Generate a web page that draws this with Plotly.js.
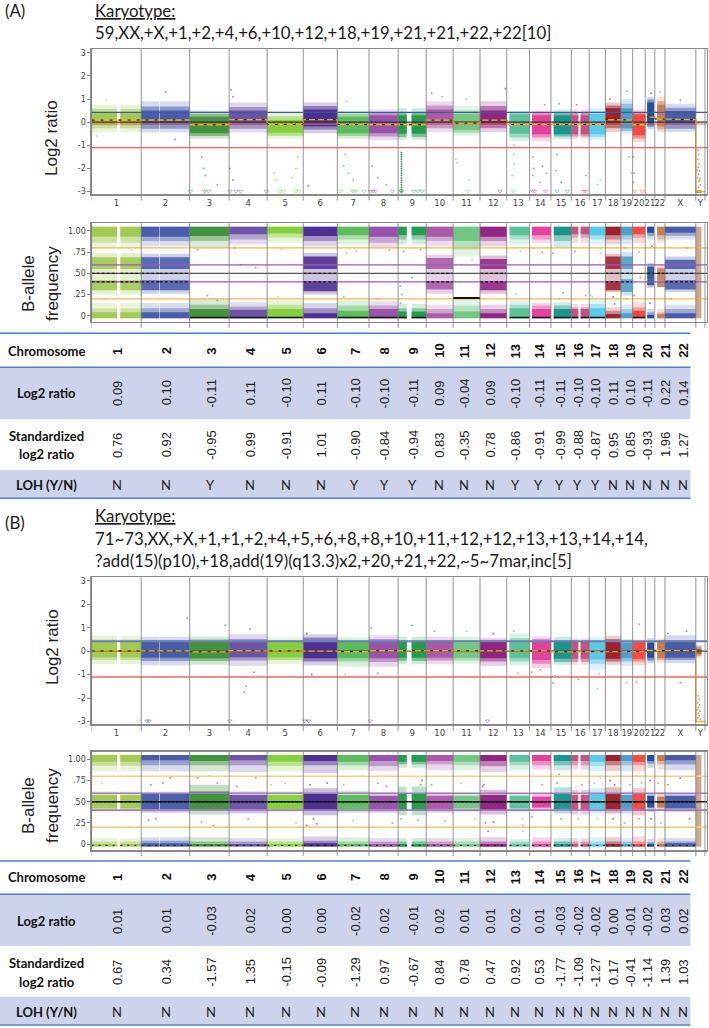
<!DOCTYPE html>
<html><head><meta charset="utf-8">
<script src="https://cdn.plot.ly/plotly-3.0.1.min.js"></script>
<style>html,body{margin:0;padding:0;background:#fff}#c{width:709px;height:1028px}</style>
</head><body><div id="c"></div>
<script>
// ---------- categories ----------
const chrNames = ['1','2','3','4','5','6','7','8','9','10','11','12','13','14','15','16','17','18','19','20','21','22','X','Y'];
const chrSizes = [249,243,198,191,181,171,159,146,141,135,135,134,115,107,102,90,81,78,59,63,48,51,155,46];
const chrColors = ['#a0c850','#4458a8','#3f8f3a','#6a50a5','#84cc3a','#4a2a90','#57bb5a','#9550a8','#1f9a4a','#a856a5','#6fc580','#8e2080','#58c098','#e43c9c','#14958a','#c0507e','#55c8e8','#9c1c28','#4c9cc8','#f54440','#1e4a98','#c87850','#4458a8','#a06030'];
const chrGaps = {1:[[128,144]],2:[[90,93]],9:[[43,68]],13:[[0,14]],14:[[0,12]],15:[[0,14]],16:[[35,47]],21:[[0,10],[44,48]],22:[[0,12]],24:[[28,46]]};
const tableChr = chrNames.slice(0,22);

// ---------- table values ----------
const log2A = [0.09,0.10,-0.11,0.11,-0.10,0.11,-0.10,-0.10,-0.11,0.09,-0.04,0.09,-0.10,-0.11,-0.11,-0.10,-0.10,0.11,0.10,-0.11,0.22,0.14];
const stdA  = [0.76,0.92,-0.95,0.99,-0.91,1.01,-0.90,-0.84,-0.94,0.83,-0.35,0.78,-0.86,-0.91,-0.99,-0.88,-0.87,0.95,0.85,-0.93,1.96,1.27];
const lohA  = ['N','N','Y','N','N','N','Y','Y','Y','N','N','N','Y','Y','Y','Y','Y','N','N','N','N','N'];
const log2B = ['0.01','0.01','-0.03','0.02','0.00','0.00','-0.02','0.02','-0.01','0.02','0.01','0.01','0.02','0.01','-0.03','-0.02','-0.02','0.00','-0.01','-0.02','0.03','0.02'];
const stdB  = [0.67,0.34,-1.57,1.35,-0.15,-0.09,-1.29,0.97,-0.67,0.84,0.78,0.47,0.92,0.53,-1.77,-1.09,-1.27,0.17,-0.41,-1.14,1.39,1.03];
const lohB  = ['N','N','N','N','N','N','N','N','N','N','N','N','N','N','N','N','N','N','N','N','N','N'];
const sexLog2A = [0.11,-3.0];
const sexLog2B = [0.02,-3.0];

// ---------- panel A log2 cloud extents per chromosome ----------
const a1OuterHi=[.75,.9,.5,.85,.45,.85,.5,.55,.6,.9,.7,.9,.5,.5,.55,.55,.6,.85,1.0,.55,1.1,1.1,.8,-2.92];
const a1MidHi  =[.58,.68,.36,.66,.26,.7,.36,.42,.44,.72,.5,.7,.42,.4,.42,.42,.46,.72,.8,.44,.98,.9,.62,-2.94];
const a1CoreHi =[.44,.5,.24,.5,.1,.55,.24,.3,.3,.55,.35,.5,.34,.3,.3,.3,.35,.6,.6,.34,.85,.75,.48,-2.96];
const a1CoreLo =[-.12,-.12,-.48,-.12,-.46,-.18,-.48,-.48,-.5,-.12,-.34,-.12,-.5,-.52,-.52,-.52,-.52,-.12,-.26,-.56,-.12,-.18,-.12,-3.04];
const a1MidLo  =[-.26,-.28,-.6,-.28,-.58,-.32,-.6,-.62,-.64,-.26,-.46,-.26,-.66,-.66,-.62,-.62,-.64,-.26,-.38,-.7,-.2,-.3,-.28,-3.05];
const a1OuterLo=[-.42,-.45,-.72,-.45,-.7,-.48,-.72,-.78,-.76,-.42,-.58,-.42,-.82,-.82,-.72,-.72,-.78,-.42,-.5,-.85,-.3,-.42,-.42,-3.06];

// ---------- panel B log2 cloud extents ----------
const b1OuterHi=[.65,.6,.62,.72,.58,.72,.58,.68,.6,.6,.62,.55,.75,.62,.6,.55,.58,.66,.52,.5,.55,.55,.68,.28];
const b1MidHi  =[.5,.48,.5,.52,.46,.58,.46,.52,.46,.48,.48,.46,.55,.52,.48,.46,.46,.52,.42,.42,.42,.48,.48,.2];
const b1CoreHi =[.4,.4,.4,.42,.4,.42,.4,.42,.4,.4,.38,.42,.4,.42,.4,.42,.42,.42,.36,.38,.36,.42,.4,.1];
const b1CoreLo =[-.26,-.28,-.3,-.26,-.26,-.3,-.3,-.3,-.28,-.28,-.28,-.3,-.3,-.38,-.32,-.32,-.36,-.32,-.3,-.32,-.28,-.28,-.28,-.12];
const b1MidLo  =[-.38,-.42,-.42,-.4,-.38,-.44,-.44,-.46,-.42,-.4,-.4,-.44,-.44,-.54,-.46,-.46,-.54,-.44,-.44,-.44,-.4,-.38,-.38,-.2];
const b1OuterLo=[-.55,-.6,-.58,-.62,-.54,-.6,-.66,-.66,-.56,-.56,-.54,-.62,-.6,-.72,-.58,-.58,-.78,-.58,-.62,-.6,-.52,-.5,-.52,-.3];

// ---------- panel A B-allele extents ----------
const a2TopEdge =[.80,.82,.80,.84,.86,.82,.84,.80,.84,.82,.70,.82,.84,.86,.80,.86,.84,.84,.84,.86,.90,.86,.90,.0];
const a2TopMid  =[.86,.88,.88,.90,.92,.88,.90,.86,.90,.88,.78,.88,.90,.90,.88,.92,.90,.90,.90,.92,.94,.90,.94,.0];
const a2TopCore =[.93,.93,.94,.96,.97,.94,.95,.93,.95,.93,.88,.93,.95,.95,.95,.96,.95,.95,.95,.96,.98,.95,.98,.0];
const a2BotCore =[.04,.04,.08,.07,.08,.03,.06,.08,.05,.03,.05,.03,.09,.08,.08,.08,.09,.02,.03,.06,.01,.02,.03,.0];
const a2BotMid  =[.09,.09,.13,.11,.13,.09,.12,.12,.09,.08,.12,.08,.13,.12,.12,.10,.14,.06,.08,.10,.04,.04,.08,.0];
const a2BotEdge =[.15,.15,.20,.16,.18,.15,.18,.17,.14,.13,.21,.13,.18,.15,.16,.14,.20,.10,.13,.16,.08,.08,.13,.0];
const gainUpperLo=[.55,.55,null,null,null,.55,null,null,null,.55,null,.55,null,null,null,null,null,.55,.55,null,.43,.42,.55,null];
const gainUpperHi=[.69,.69,null,null,null,.70,null,null,null,.68,null,.67,null,null,null,null,null,.70,.70,null,.58,.56,.66,null];
const gainLowerLo=[.30,.30,null,null,null,.29,null,null,null,.31,null,.30,null,null,null,null,null,.30,.28,null,.36,.34,.31,null];
const gainLowerHi=[.42,.42,null,null,null,.41,null,null,null,.41,null,.41,null,null,null,null,null,.41,.43,null,.43,.42,.42,null];
const gainMaskLo =[.25,.26,null,null,null,.25,null,null,null,.26,null,.26,null,null,null,null,null,.28,.24,null,.33,.34,.28,null];
const gainMaskHi =[.74,.73,null,null,null,.74,null,null,null,.72,null,.71,null,null,null,null,null,.73,.75,null,.62,.60,.70,null];
const yStripLo = [null,null,null,null,null,null,null,null,null,null,null,null,null,null,null,null,null,null,null,null,null,null,null,-.03];
const yStripHi = [null,null,null,null,null,null,null,null,null,null,null,null,null,null,null,null,null,null,null,null,null,null,null,1.05];

// ---------- panel B B-allele extents ----------
const b2TopCore =[.97,.99,.98,.99,.97,.98,.97,.98,.97,.98,.97,.98,.97,.98,.98,.98,.97,.98,.98,.97,.98,.98,.99,.0];
const b2TopMid  =[.92,.93,.93,.93,.92,.93,.93,.92,.94,.94,.93,.92,.93,.93,.93,.93,.92,.93,.93,.93,.95,.94,.94,.0];
const b2TopEdge =[.86,.86,.86,.85,.86,.84,.87,.86,.90,.87,.87,.85,.87,.88,.87,.88,.86,.86,.86,.86,.90,.88,.87,.0];
const b2MidHi   =[.58,.59,.62,.58,.58,.60,.58,.57,.60,.57,.57,.58,.57,.56,.60,.58,.59,.59,.58,.60,.57,.56,.57,.0];
const b2FadeHi  =[.62,.61,.70,.62,.62,.66,.63,.61,.68,.61,.60,.64,.60,.60,.67,.64,.66,.67,.62,.66,.60,.60,.60,.0];
const b2MidLo   =[.42,.41,.39,.41,.41,.39,.41,.41,.40,.41,.42,.40,.42,.43,.41,.40,.41,.41,.41,.40,.43,.43,.42,.0];
const b2FadeLo  =[.38,.37,.35,.36,.38,.34,.37,.37,.34,.37,.38,.35,.38,.39,.36,.35,.36,.36,.36,.34,.38,.39,.38,.0];
const b2BotCore =[.0,.01,.0,.0,.0,.01,.0,.0,.0,.0,.0,.0,.0,.0,.0,.0,.0,.0,.0,.0,.0,.0,.01,.0];
const b2BotMid  =[.03,.04,.03,.03,.03,.04,.03,.03,.03,.03,.03,.03,.03,.03,.03,.03,.03,.03,.03,.03,.02,.03,.03,.0];
const b2BotEdge =[.07,.08,.08,.07,.07,.09,.08,.07,.07,.07,.07,.08,.06,.08,.07,.07,.08,.08,.07,.09,.06,.07,.07,.0];

// ---------- isolated marks: [chromosome, fraction along it, value] ----------
const a1Sparse=[[1,.1,-.6],[1,.3,.95],[2,.5,1.3],[2,.7,-.75],[4,.05,1.4],[4,.1,1.1],[3,.3,-1.5],[3,.35,-2.0],[3,.4,-2.3],[3,.7,-2.7],[4,.02,-2.0],[4,.1,-2.5],[5,.2,-2.2],[5,.25,-2.5],[5,.85,-1.5],[5,.8,-2.0],[5,.7,-2.4],[5,.05,-1.0],[6,.15,-2.75],[7,.25,-1.4],[7,.2,-1.9],[7,.35,-2.2],[7,.5,-2.5],[7,.3,.9],[8,.1,-1.9],[8,.3,-2.4],[8,.6,-2.7],[10,.2,1.25],[10,.6,1.1],[11,.1,-1.6],[11,.15,-1.75],[11,.6,-2.5],[11,.5,1.0],[12,.95,1.45],[13,.3,-1.4],[13,.3,-1.8],[13,.25,-2.3],[13,.3,-1.0],[14,.15,-1.5],[14,.2,-2.0],[14,.15,-2.3],[14,.6,-1.9],[14,.8,-2.2],[14,.5,-2.6],[14,.7,.75],[15,.3,-1.4],[15,.25,-2.1],[15,.5,-2.6],[15,.4,.8],[16,.8,-2.3],[16,.3,.75],[17,.7,-2.5],[17,.5,-2.7],[18,.3,1.0],[19,.5,1.35],[19,.7,-1.5],[19,.9,-2.2],[20,.05,-1.5],[20,.1,-2.2],[20,.05,-2.6],[21,.6,1.25],[22,.5,1.3],[23,.5,.95],[24,.25,-1.2],[24,.3,-1.4],[24,.2,-1.6],[24,.35,-1.8],[24,.25,-1.95],[24,.4,-2.1],[24,.3,-2.25],[24,.2,-2.4],[24,.35,-2.55],[24,.5,-2.7],[24,.3,-2.8],[24,.15,-2.1],[24,.45,-2.45]];
const a1Column=[-1.3,-1.4,-1.5,-1.6,-1.7,-1.8,-1.9,-2.0,-2.1,-2.2,-2.3,-2.4,-2.5,-2.6,-2.7,-2.8,-2.9,-3.0];
const a1FloorMarks=[[3,.02],[3,.38],[3,.48],[4,.02],[4,.18],[4,.3],[4,.98],[5,.35],[5,.45],[5,.8],[5,.88],[7,.1],[7,.5],[7,.56],[7,.85],[8,.05],[8,.14],[8,.22],[8,.8],[9,.1],[9,.12],[9,.55],[9,.7],[9,.85],[11,.55],[12,.75],[13,.3],[14,.15],[14,.24],[14,.75],[15,.3],[15,.8],[16,.7],[16,.8],[20,.15],[20,.75]];
const b1Sparse=[[2,.95,1.4],[3,.9,1.1],[4,.55,.95],[4,.65,-.9],[4,.4,-1.75],[4,.45,-1.5],[4,.4,-1.1],[3,.05,-1.1],[6,.1,.75],[6,.25,-1.0],[7,.25,-1.0],[8,.08,1.0],[8,.3,-.95],[9,.5,1.1],[10,.3,.85],[11,.5,.85],[12,.5,.75],[13,.3,.85],[13,.5,-.95],[14,.1,-.9],[14,.5,-.8],[15,.1,-1.35],[15,.2,-1.05],[16,.4,-1.2],[17,.5,-1.6],[17,.6,-.95],[19,.5,-1.35],[20,.5,1.15],[20,.3,-1.3],[23,.1,.75],[23,.7,.85],[23,.5,-1.35],[24,.25,-1.9],[24,.35,-2.05],[24,.2,-2.2],[24,.4,-2.3],[24,.3,-2.4],[24,.15,-2.5],[24,.45,-2.55],[24,.25,-2.65],[24,.35,-2.75],[24,.2,-2.85],[24,.5,-2.9]];
const b1FloorMarks=[[1,.95],[2,.12],[2,.16],[4,.02],[6,.05],[6,.16],[8,.04],[12,.28]];
const a2Sparse=[[1,.25,.2],[1,.8,.78],[3,.2,.78],[3,.45,.24],[3,.7,.18],[4,.3,.6],[4,.7,.57],[4,.15,.8],[5,.3,.22],[5,.4,.78],[7,.2,.22],[7,.6,.76],[7,.3,.74],[8,.3,.2],[8,.7,.78],[9,.08,.35],[9,.13,.25],[9,.08,.15],[9,.5,.45],[9,.8,.78],[9,.2,.76],[13,.6,.76],[13,.4,.25],[14,.2,.8],[14,.6,.75],[15,.1,.74],[15,.6,.27],[15,.4,.2],[16,.8,.24],[16,.2,.76],[17,.1,.24],[17,.2,.22],[17,.7,.74],[18,.5,.22],[18,.6,.14],[20,.1,.24],[20,.5,.75],[20,.6,.45],[21,.5,.15],[21,.7,.82],[19,.5,.2],[19,.3,.8],[23,.2,.2],[23,.7,.8],[11,.3,.6],[11,.7,.66],[11,.2,.4]];
const b2Sparse=[[1,.2,.72],[1,.75,.2],[1,.6,.8],[2,.2,.7],[2,.45,.72],[2,.15,.28],[2,.6,.78],[2,.3,.3],[3,.2,.78],[3,.5,.8],[3,.7,.72],[3,.3,.26],[3,.6,.22],[4,.2,.68],[4,.5,.3],[4,.7,.78],[5,.1,.7],[5,.8,.25],[5,.5,.72],[6,.2,.7],[6,.3,.3],[6,.1,.22],[6,.7,.72],[6,.4,.24],[7,.2,.7],[7,.8,.8],[7,.5,.28],[8,.3,.72],[8,.8,.25],[8,.6,.68],[9,.1,.3],[9,.8,.7],[9,.7,.28],[9,.85,.75],[10,.2,.7],[10,.7,.27],[11,.3,.72],[11,.8,.3],[12,.1,.68],[12,.2,.25],[12,.5,.26],[12,.3,.15],[12,.15,.7],[13,.7,.3],[13,.7,.22],[13,.7,.15],[14,.1,.32],[14,.6,.7],[15,.3,.72],[15,.5,.3],[15,.4,.82],[16,.4,.3],[16,.6,.7],[17,.3,.72],[17,.5,.3],[17,.7,.78],[18,.3,.75],[18,.6,.7],[18,.5,.3],[19,.3,.25],[19,.8,.7],[20,.3,.8],[20,.7,.72],[20,.5,.3],[21,.5,.75],[21,.6,.3],[22,.3,.72],[22,.6,.25],[23,.1,.7],[23,.8,.3],[23,.5,.78]];

// ---------- reference lines ----------
const a1Lines=[[.42,'#3c5aa0',1.2],[0,'#333333',1.2],[-.08,'#f0705a',1],[-1.1,'#f06060',1.4]];
const b1Lines=[[.42,'#6a80b8',2],[0,'#444444',1.2],[-1.1,'#f08c8c',2]];
const a2Lines=[[.8,'#f2b84e',1.2],[.2,'#f2b84e',1.2],[.6,'#9a5ab8',1.2],[.4,'#9a5ab8',1.2],[.5,'#555555',1.4]];
const b2Lines=[[.8,'#f6cf8a',1.6],[.2,'#f6cf8a',1.6],[.6,'#a878c0',1.6],[.4,'#a878c0',1.6],[.5,'#222222',1.6]];
const gainChrs=[1,2,6,10,12,18,19,23];

// ---------- helpers ----------
const W=709,H=1028,PL=91.6,PR=707;
const SX=709/1564;
const starts=[];let tot=0;chrSizes.forEach(s=>{starts.push(tot);tot+=s;});
const xMax=tot+10;
const edges=[...starts,tot];
const centers=chrSizes.map((s,i)=>starts[i]+s/2);
const segs=i=>{const g=chrGaps[i+1]||[];let a=0;const r=[];g.forEach(p=>{if(p[0]>a)r.push([a,p[0]]);a=p[1];});if(a<chrSizes[i])r.push([a,chrSizes[i]]);return r;};
const traces=[];
function band(ax,lo,hi,op){
  const x=[],w=[],b=[],y=[],c=[];
  chrNames.forEach((n,i)=>{
    const L=typeof lo==='number'?lo:lo[i],U=typeof hi==='number'?hi:hi[i];
    if(L===null||U===null||U<=L)return;
    if(i===23&&typeof lo==='number')return;
    if(i===23&&typeof hi==='number'&&lo[i]===.0)return;
    segs(i).forEach(s=>{x.push(starts[i]+(s[0]+s[1])/2);w.push(s[1]-s[0]);b.push(L);y.push(U-L);c.push(chrColors[i]);});
  });
  traces.push({type:'bar',x,y,base:b,width:w,xaxis:ax[0],yaxis:ax[1],marker:{color:c,opacity:op,line:{width:0}},hoverinfo:'skip',showlegend:false});
}
function pts(ax,list,size){
  traces.push({type:'scatter',mode:'markers',x:list.map(p=>starts[p[0]-1]+p[1]*chrSizes[p[0]-1]),y:list.map(p=>p[2]),xaxis:ax[0],yaxis:ax[1],
    marker:{size:size,color:list.map(p=>chrColors[p[0]-1]),opacity:.6},hoverinfo:'skip',showlegend:false});
}
function floorMarks(ax,list,v){
  traces.push({type:'scatter',mode:'markers',x:list.map(p=>starts[p[0]-1]+p[1]*chrSizes[p[0]-1]),y:list.map(()=>v),xaxis:ax[0],yaxis:ax[1],
    marker:{symbol:'triangle-down-open',size:4,color:list.map(p=>chrColors[p[0]-1]),opacity:.6,line:{width:.7}},hoverinfo:'skip',showlegend:false});
}
function hlines(ax,list){list.forEach(l=>traces.push({type:'scatter',mode:'lines',x:[0,xMax],y:[l[0],l[0]],xaxis:ax[0],yaxis:ax[1],line:{color:l[1],width:l[2]},hoverinfo:'skip',showlegend:false}));}
function means(ax,vals){
  const x=[],y=[];
  vals.forEach((v,i)=>{x.push(edges[i]);y.push(v);x.push(edges[i+1]);y.push(v);});
  traces.push({type:'scatter',mode:'lines',x,y,xaxis:ax[0],yaxis:ax[1],line:{color:'#f2b01e',width:1.3},hoverinfo:'skip',showlegend:false});
  traces.push({type:'scatter',mode:'lines',x:x.slice(0,46),y:y.slice(0,46),xaxis:ax[0],yaxis:ax[1],line:{color:'#111',width:1,dash:'3px,6px'},hoverinfo:'skip',showlegend:false});
}
function dashes(ax,chrs,v,w,dash){
  const x=[],y=[];
  chrs.forEach(c=>segs(c-1).forEach(s=>{x.push(starts[c-1]+s[0],starts[c-1]+s[1],null);y.push(v,v,null);}));
  traces.push({type:'scatter',mode:'lines',x,y,xaxis:ax[0],yaxis:ax[1],line:{color:'#111',width:w,dash:dash},hoverinfo:'skip',showlegend:false});
}

// ---------- panel A top ----------
const A1=['x','y'],A2=['x2','y2'],B1=['x3','y3'],B2=['x4','y4'];
band(A1,a1OuterLo,a1OuterHi,.22);band(A1,a1MidLo,a1MidHi,.5);band(A1,a1CoreLo,a1CoreHi,.95);
pts(A1,a1Sparse,2);
traces.push({type:'scatter',mode:'markers',x:a1Column.map(()=>starts[8]+.12*chrSizes[8]),y:a1Column,xaxis:'x',yaxis:'y',marker:{size:1.8,color:chrColors[8]},hoverinfo:'skip',showlegend:false});
floorMarks(A1,a1FloorMarks,-2.98);
hlines(A1,a1Lines);
means(A1,[...log2A,...sexLog2A]);

// ---------- panel A bottom ----------
band(A2,gainMaskLo,gainMaskHi,.28);
band(A2,gainUpperLo,gainUpperHi,.85);band(A2,gainLowerLo,gainLowerHi,.85);
band(A2,a2TopEdge,1.05,.2);band(A2,a2TopMid,1.05,.4);band(A2,a2TopCore,1.05,.95);
band(A2,-.03,a2BotEdge,.2);band(A2,-.03,a2BotMid,.4);band(A2,-.03,a2BotCore,.95);
band(A2,yStripLo,yStripHi,.55);
pts(A2,a2Sparse,2);
hlines(A2,a2Lines);
dashes(A2,gainChrs,.5,1.2,'3px,2px');dashes(A2,gainChrs,.4,1.2,'3px,2px');
dashes(A2,[21,22],.5,1.2,'3px,2px');
dashes(A2,[11],.21,2,'solid');
dashes(A2,[3,4,5,7,8,9,13,14,15,16,17,20],-.02,1.4,'solid');

// ---------- panel B top ----------
band(B1,b1OuterLo,b1OuterHi,.22);band(B1,b1MidLo,b1MidHi,.5);band(B1,b1CoreLo,b1CoreHi,.95);
pts(B1,b1Sparse,2);
floorMarks(B1,b1FloorMarks,-2.98);
hlines(B1,b1Lines);
means(B1,[...log2B.map(Number),...sexLog2B]);

// ---------- panel B bottom ----------
band(B2,b2FadeLo,b2FadeHi,.3);band(B2,b2MidLo,b2MidHi,.95);
band(B2,b2TopEdge,1.05,.22);band(B2,b2TopMid,1.05,.45);band(B2,b2TopCore,1.05,.95);
band(B2,-.03,b2BotEdge,.22);band(B2,-.03,b2BotMid,.45);band(B2,-.03,b2BotCore,.95);
band(B2,yStripLo,yStripHi,.55);
pts(B2,b2Sparse,2);
hlines(B2,b2Lines);
dashes(B2,chrNames.slice(0,23).map((n,i)=>i+1),.5,1.6,'3px,1px');
dashes(B2,chrNames.slice(0,23).map((n,i)=>i+1),-.015,1,'2px,5px');

// ---------- layout ----------
const xDom=[PL/W,PR/W];
const yDom=(t,b)=>[1-b/H,1-t/H];
const GR='#8a8a8a';
const xa=(labels,anchor)=>({domain:xDom,range:[0,xMax],anchor,tickmode:'array',tickvals:centers,ticktext:labels?chrNames:centers.map(()=>''),tickangle:0,
  ticks:'',showgrid:false,zeroline:false,showline:true,linecolor:GR,linewidth:1.5,mirror:true,tickfont:{family:'DejaVu Sans',size:8.5,color:'#444'}});
const ya=(rng,vals,text,anchor,t,b)=>({domain:yDom(t,b),range:rng,anchor,tickmode:'array',tickvals:vals,ticktext:text,ticks:'outside',ticklen:3,tickcolor:'#888',
  showgrid:false,zeroline:false,showline:true,linecolor:GR,linewidth:1.2,mirror:true,tickfont:{family:'DejaVu Sans',size:8,color:'#444'}});
const logV=[3,2,1,0,-1,-2,-3],logT=['3','2','1','0','-1','-2','-3'];
const bafV=[1,.75,.5,.25,0],bafT=['1.00','.75','.50','.25','0'];
const P=(px)=>px/W,Q=(py)=>1-py/H;
const TR=1523*SX;
const shapes=[],ann=[];
const hl=(py,col,w)=>shapes.push({type:'line',xref:'paper',yref:'paper',x0:0,x1:P(TR),y0:Q(py),y1:Q(py),line:{color:col,width:w}});
const rect=(t,b)=>shapes.push({type:'rect',xref:'paper',yref:'paper',x0:0,x1:P(TR),y0:Q(t),y1:Q(b),fillcolor:'#cdd3ea',line:{width:0},layer:'below'});
const txt=(s,x,y,o={})=>ann.push(Object.assign({text:s,xref:'paper',yref:'paper',x:P(x),y:Q(y),showarrow:false,xanchor:'left',yanchor:'middle',borderpad:0,
   font:{family:'Lato',size:16,color:'#222'}},o));
['x','x2','x3','x4'].forEach((ax,k)=>{
  const yr=['y domain','y2 domain','y3 domain','y4 domain'][k];
  edges.forEach(e=>shapes.push({type:'line',xref:ax,yref:yr,x0:e,x1:e,y0:-0.045*(k%2?1.4:1),y1:1,line:{color:'#777',width:.8}}));
});
const colX=[258,367,465,552,630,709,783,848,910,968,1024,1080,1137,1188,1235,1274,1313,1352,1390,1428,1467,1506].map(v=>v*SX);
function table(top,y){
  hl(y.l0,'#4f7fc8',1.4);hl(y.l1,'#4f7fc8',1.4);hl(y.l2,'#4f7fc8',1.4);
  rect(y.l1,y.b1);rect(y.b2,y.l2);
  const lab={family:'Lato',size:13,color:'#111'};
  const c={xanchor:'center'};
  const LX=46.7;
  txt('<b>Chromosome</b>',LX,y.chr,{...c,font:lab});
  txt('<b>Log2 ratio</b>',LX,y.log,{...c,font:lab});
  txt('<b>Standardized</b>',LX,y.s1,{...c,font:lab});
  txt('<b>log2 ratio</b>',LX,y.s2,{...c,font:lab});
  txt('<b>LOH (Y/N)</b>',LX,y.loh,{...c,font:lab});
  colX.forEach((x,i)=>{
    const f={family:'Liberation Sans',size:13,color:'#222'};
    txt('<b>'+tableChr[i]+'</b>',x,y.chr,{...c,textangle:-90,font:{family:'Liberation Sans',size:13,color:'#111'}});
    txt(top.log[i],x,y.log,{...c,textangle:-90,font:f});
    txt(top.std[i],x,y.std,{...c,textangle:-90,font:f});
    txt(top.loh[i],x,y.loh,{...c,font:{family:'Lato',size:13,color:'#222'}});
  });
}
table({log:log2A.map(v=>v.toFixed(2)),std:stdA.map(v=>v.toFixed(2)),loh:lohA},{l0:333.3,l1:367.3,b1:419.3,b2:470,l2:498.3,chr:351,log:393,s1:436,s2:454,std:445,loh:485});
table({log:log2B,std:stdB.map(v=>v.toFixed(2)),loh:lohB},{l0:861,l1:894.3,b1:946,b2:996.7,l2:1025,chr:877,log:921,s1:963,s2:982,std:972,loh:1012});

const kt={family:'Lato',size:16.8,color:'#1a1a1a'};
const KX=207*SX;
txt('(A)',4,11,{font:kt});
txt('<u>Karyotype:</u>',KX,11,{font:kt});
txt('59,XX,+X,+1,+2,+4,+6,+10,+12,+18,+19,+21,+21,+22,+22[10]',KX,32,{font:kt});
txt('(B)',4,522,{font:kt});
txt('<u>Karyotype:</u>',KX,515,{font:kt});
txt('71~73,XX,+X,+1,+1,+2,+4,+5,+6,+8,+8,+10,+11,+12,+12,+13,+13,+14,+14,',KX,538,{font:kt});
txt('?add(15)(p10),+18,add(19)(q13.3)x2,+20,+21,+22,~5~7mar,inc[5]',KX,560,{font:kt});
const tf={family:'Liberation Sans',size:17,color:'#222'};
txt('Log2 ratio',52,138,{xanchor:'center',textangle:-90,font:tf});
txt('Log2 ratio',52,647,{xanchor:'center',textangle:-90,font:tf});
txt('B-allele',28,284,{xanchor:'center',textangle:-90,font:tf});
txt('frequency',52,284,{xanchor:'center',textangle:-90,font:tf});
txt('B-allele',28,806,{xanchor:'center',textangle:-90,font:tf});
txt('frequency',52,806,{xanchor:'center',textangle:-90,font:tf});

const layout={width:W,height:H,margin:{l:0,r:0,t:0,b:0},paper_bgcolor:'#fff',plot_bgcolor:'#fff',barmode:'overlay',showlegend:false,
  xaxis:xa(true,'y'),yaxis:ya([-3.1,3.16],logV,logT,'x',49,194),
  xaxis2:xa(false,'y2'),yaxis2:ya([-.07,1.09],bafV,bafT,'x2',223.3,321.7),
  xaxis3:xa(true,'y3'),yaxis3:ya([-3.12,3.15],logV,logT,'x3',577.3,724.3),
  xaxis4:xa(false,'y4'),yaxis4:ya([-.07,1.09],bafV,bafT,'x4',751.7,850),
  shapes,annotations:ann};
Plotly.newPlot('c',traces,layout,{displayModeBar:false,staticPlot:true});
</script></body></html>
